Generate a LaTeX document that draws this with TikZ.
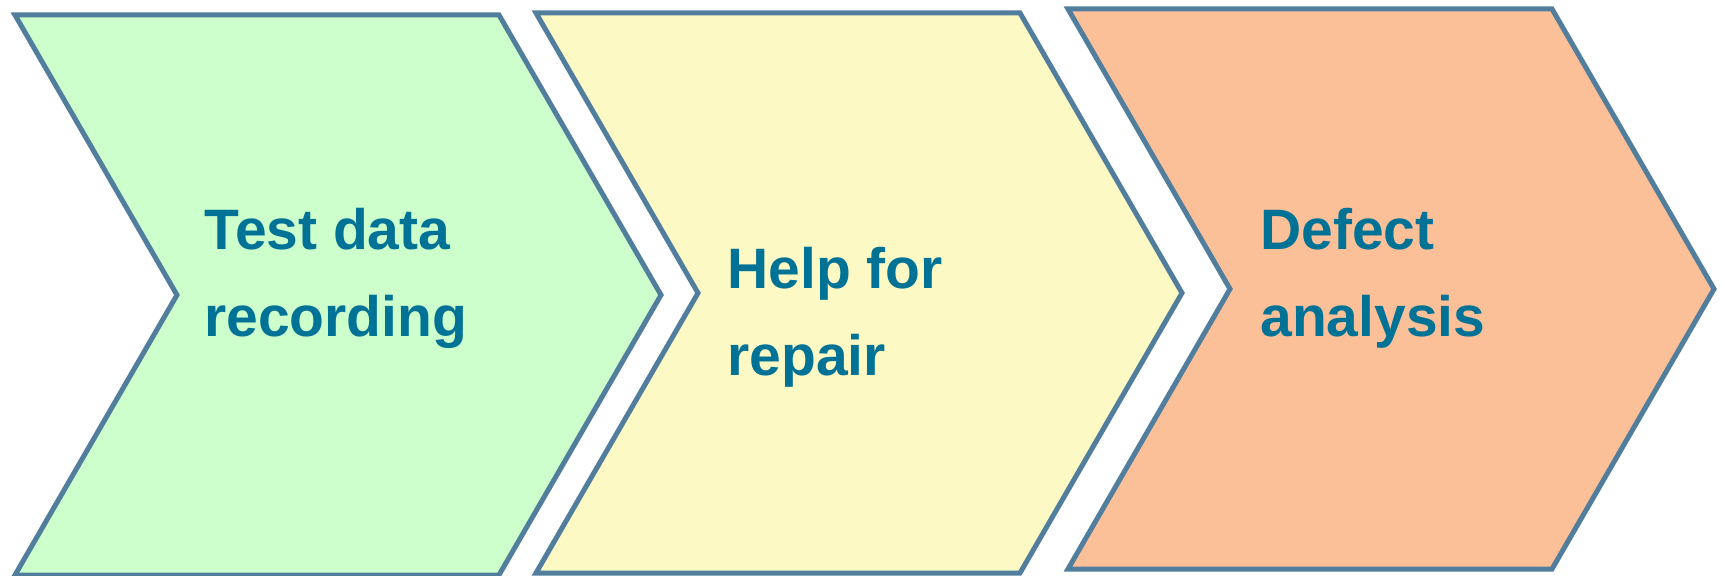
\documentclass[tikz,border=0pt]{standalone}
\usepackage{fontspec}
\setmainfont{Liberation Sans}
\usetikzlibrary{positioning}
\definecolor{slateline}{RGB}{82,126,158}
\definecolor{mint}{RGB}{204,255,204}
\definecolor{cream}{RGB}{253,249,196}
\definecolor{peach}{RGB}{252,192,152}
\definecolor{petrol}{RGB}{0,114,150}
\tikzset{
  chevron/.style={draw=slateline,line width=2.5pt,line join=miter},
  steplabel/.style={text=petrol,font=\fontsize{28.5}{43.5}\selectfont\bfseries,
    align=left,anchor=base west,inner sep=0pt}
}

\begin{document}
\begin{tikzpicture}[x=0.5pt,y=-0.5pt]
    \useasboundingbox (0,0) rectangle (1723,576);
    \foreach \x/\y/\c/\n/\tx/\ty/\t in {
      15/15/mint/testdata/189/322/Test data\\recording,
      536/13/cream/repair/191/363/Help for\\repair,
      1068/9/peach/defect/192/328/Defect\\analysis}
    {
      \draw[chevron,fill=\c] (\x,\y) -- ++(484,0) -- ++(162,280) -- ++(-162,280)
        -- ++(-484,0) -- ++(162,-280) -- cycle;
      \node[steplabel] (\n) at (\x+\tx,\y+\ty) {\t};
    }
  \end{tikzpicture}
\end{document}
